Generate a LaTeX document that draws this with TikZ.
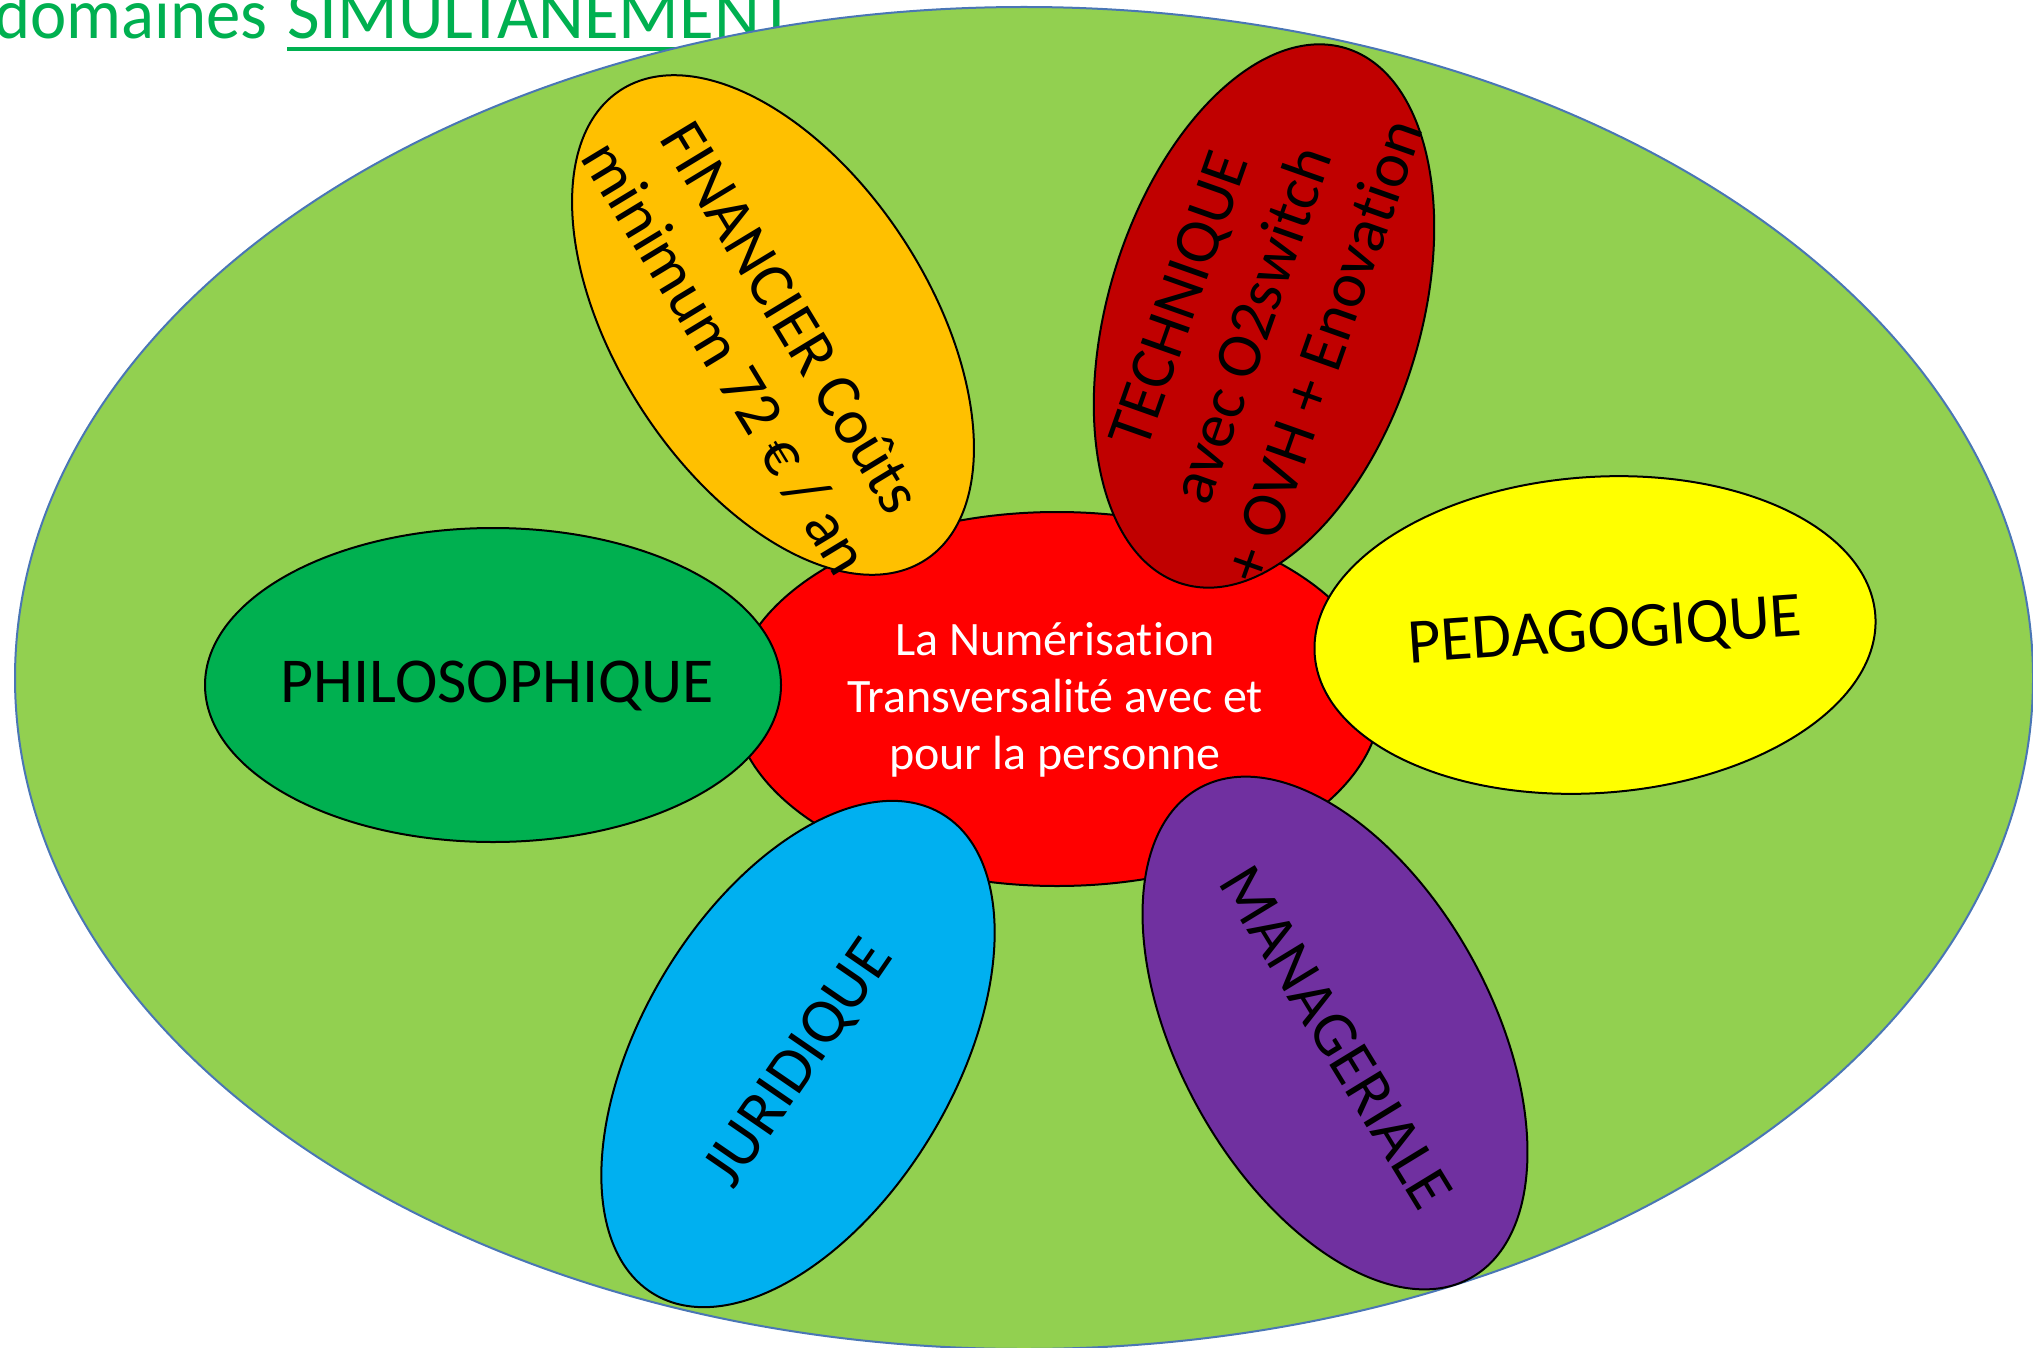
\documentclass[tikz,border=0pt]{standalone}
\usepackage{fontspec}
\setmainfont{Carlito}[Ligatures=NoCommon]
\newfontfamily\titlefont{Carlito}[Ligatures=NoCommon, FakeStretch=0.985]
\newfontfamily\titlefontd{Carlito}[Ligatures=NoCommon, FakeStretch=0.955]
\usetikzlibrary{shapes.geometric}
\definecolor{bggreen}{HTML}{92D050}
\definecolor{edgeblue}{HTML}{4A76B5}
\definecolor{titlegreen}{HTML}{00B050}
\definecolor{philo}{HTML}{00B050}
\definecolor{fin}{HTML}{FFC000}
\definecolor{tech}{HTML}{C00000}
\definecolor{peda}{HTML}{FFFF00}
\definecolor{juri}{HTML}{00B0F0}
\definecolor{mana}{HTML}{7030A0}
\definecolor{core}{HTML}{FF0000}
\tikzset{
  petal/.style={ellipse, draw=black, line width=2pt, inner sep=0pt,
                minimum width=560pt, minimum height=312pt},
  petaltext/.style={text=black, align=center, inner sep=0pt, font=\fontsize{64}{77}\selectfont},
  coretext/.style={text=white, align=center, inner sep=0pt, font=\fontsize{48}{57}\selectfont},
  titletext/.style={text=titlegreen, inner sep=0pt, font=\titlefont\fontsize{72}{80}\selectfont}
}
\begin{document}
\begin{tikzpicture}[x=1pt, y=-1pt]
\useasboundingbox (0,0) rectangle (2033,1348);
\clip (0,0) rectangle (2033,1348);
% title
\node[titletext, font=\titlefontd\fontsize{72}{80}\selectfont, anchor=base west] (t1) at (-6,39) {domaines};
\node[titletext, anchor=base west] (t2) at (287,39) {SIMULTANEMENT};
\draw[titlegreen, line width=4pt] ([yshift=-10pt]t2.base west) -- ([yshift=-10pt]t2.base east);
% outer ellipse
\node[ellipse, draw=edgeblue, fill=bggreen, line width=2pt, inner sep=0pt,
      minimum width=2018pt, minimum height=1342pt] (outer) at (1024,678) {};
% core
\node[ellipse, draw=black, fill=core, line width=2pt, inner sep=0pt,
      minimum width=648pt, minimum height=374pt] (core) at (1057,699) {};
% petals
\node[petal, fill=philo, minimum width=576pt, minimum height=314pt] (philo) at (493,685) {};
\node[petal, fill=fin, rotate=-57] (fin) at (773,325) {};
\node[petal, fill=tech, rotate=73] (tech) at (1264,316) {};
\node[petal, fill=peda, minimum width=562pt, minimum height=316pt, rotate=4] (peda) at (1595,635) {};
\node[petal, fill=juri, rotate=59] (juri) at (798,1054) {};
\node[petal, fill=mana, rotate=-61] (mana) at (1335,1033) {};
% texts
\node[coretext] (coret) at (1055,700) {La Numérisation\\Transversalité avec et\\pour la personne};
\node[petaltext, anchor=base] (philot) at (497,702) {PHILOSOPHIQUE};
\node[petaltext, rotate=-58.8] (fint) at (758,338) {FINANCIER Coûts\\minimum 72 € / an};
\node[petaltext, rotate=70.5] (techt) at (1251,325) {TECHNIQUE\\avec O2switch\\+ OVH + Enovation};
\node[petaltext, rotate=4] (pedat) at (1605,633) {PEDAGOGIQUE};
\node[petaltext, rotate=55.5] (jurit) at (800,1064) {JURIDIQUE};
\node[petaltext, rotate=-58.6] (manat) at (1336,1037) {MANAGERIALE};
\end{tikzpicture}
\end{document}
